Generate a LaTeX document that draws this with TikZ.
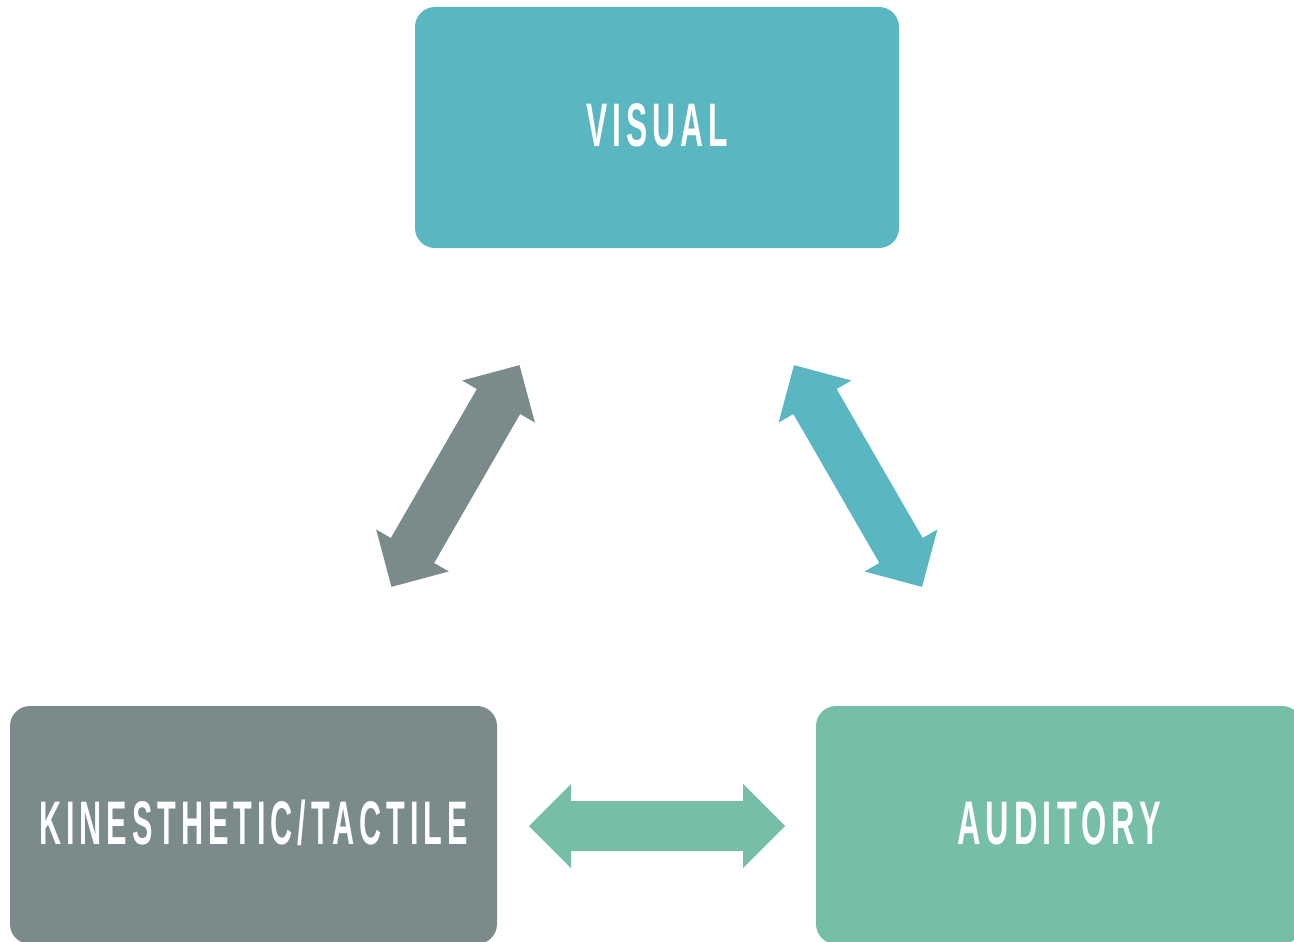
\documentclass[tikz,border=0pt]{standalone}
\usepackage{fontspec}
\setmainfont{Liberation Sans}
\usetikzlibrary{calc}
\definecolor{cteal}{HTML}{5AB6C1}
\definecolor{cgray}{HTML}{7B8B8C}
\definecolor{cgreen}{HTML}{76BEA8}
\newcommand{\boxlabel}[3]{\raisebox{#3}[44pt][0pt]{\resizebox{#1}{\height}{\fontsize{61.5}{61.5}\selectfont\bfseries\addfontfeature{LetterSpace=16}#2}}}
\tikzset{
  learnbox/.style={rounded corners=20pt, inner sep=0pt, text=white,
    text height=44pt, text depth=0pt, align=center},
  blockarrow/.style={to path={
    -- ($(\tikztostart)!59.4pt!45:(\tikztotarget)$)
    -- ($(\tikztostart)!48.88pt!30.76:(\tikztotarget)$)
    -- ($(\tikztotarget)!48.88pt!-30.76:(\tikztostart)$)
    -- ($(\tikztotarget)!59.4pt!-45:(\tikztostart)$)
    -- (\tikztotarget)
    -- ($(\tikztotarget)!59.4pt!45:(\tikztostart)$)
    -- ($(\tikztotarget)!48.88pt!30.76:(\tikztostart)$)
    -- ($(\tikztostart)!48.88pt!-30.76:(\tikztotarget)$)
    -- ($(\tikztostart)!59.4pt!-45:(\tikztotarget)$)
    -- cycle}}
}
\begin{document}
\begin{tikzpicture}[x=1pt,y=-1pt]
\useasboundingbox (0,0) rectangle (1294,942);
\clip (0,0) rectangle (1294,942);
\node[learnbox, fill=cteal, minimum width=484pt, minimum height=241pt] (visual) at (657,127.5) {\boxlabel{142pt}{VISUAL}{3pt}};
\node[learnbox, fill=cgray, minimum width=487pt, minimum height=238pt] (kin) at (253.5,825) {\boxlabel{428pt}{KINESTHETIC/TACTILE}{2.5pt}};
\node[learnbox, fill=cgreen, minimum width=486pt, minimum height=238pt] (aud) at (1059,825) {\boxlabel{204pt}{AUDITORY}{2.5pt}};
\coordinate (g1) at (391.5,586.85);
\coordinate (g2) at (519.5,365.15);
\coordinate (t1) at (794,365.15);
\coordinate (t2) at (922,586.85);
\coordinate (h1) at (529,826);
\coordinate (h2) at (785,826);
\fill[cgray] (g1) to[blockarrow] (g2);
\fill[cteal] (t1) to[blockarrow] (t2);
\fill[cgreen] (h1) to[blockarrow] (h2);
\end{tikzpicture}
\end{document}
